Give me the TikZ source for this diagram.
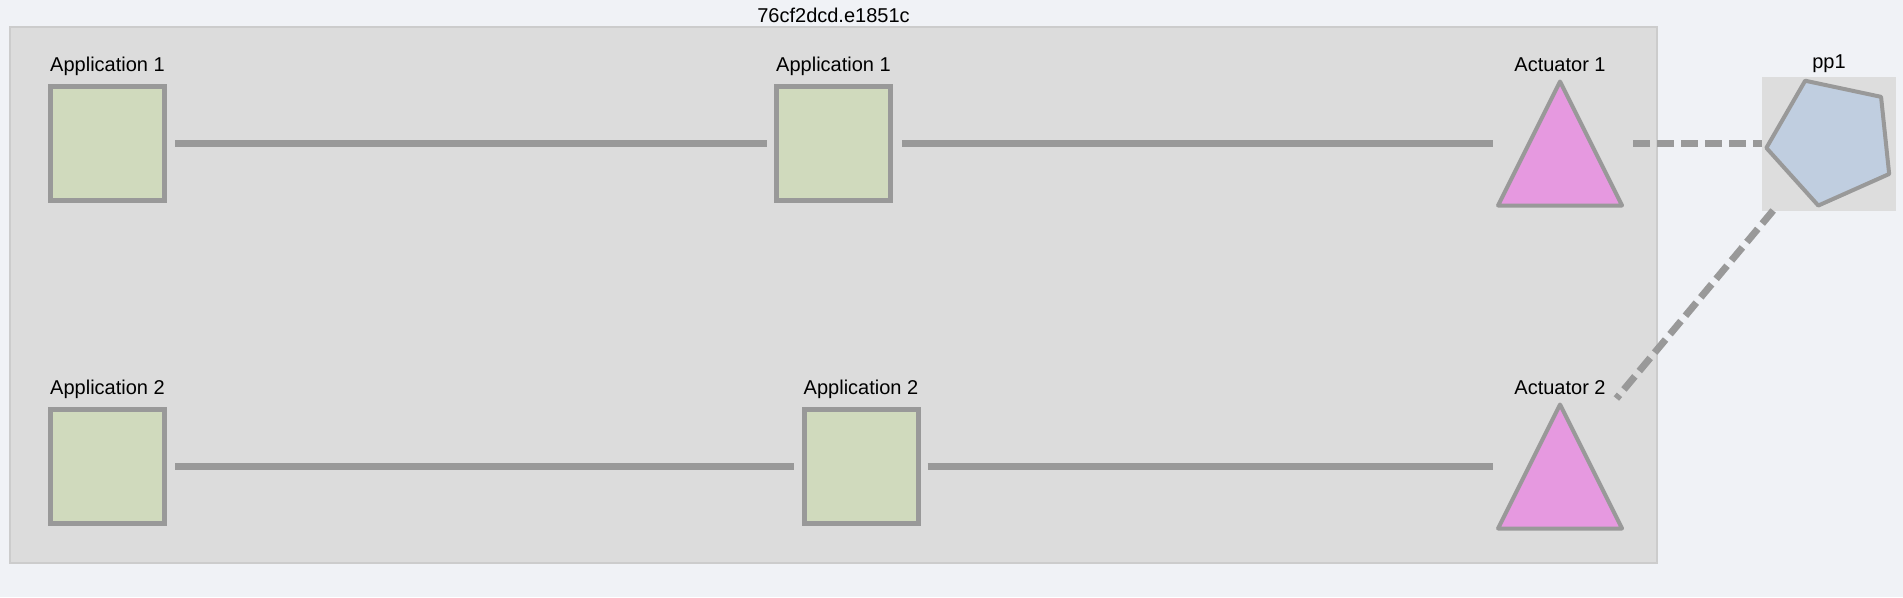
\documentclass[tikz,border=0pt]{standalone}
\usepackage{fontspec}
\setmainfont{Liberation Sans}
\usepackage{tikz}
\usetikzlibrary{calc,positioning,shapes.geometric}
\definecolor{canvasbg}{HTML}{F0F2F6}
\definecolor{groupfill}{HTML}{DCDCDC}
\definecolor{groupline}{HTML}{CCCCCC}
\definecolor{edgegray}{HTML}{999999}
\definecolor{appfill}{HTML}{D0DABD}
\definecolor{actfill}{HTML}{E699E0}
\definecolor{ppfill}{HTML}{C0CEE0}
\definecolor{ppback}{HTML}{DDDDDD}
\tikzset{
    lbl/.style={inner sep=0pt, font=\fontsize{20}{24}\selectfont},
    appbox/.style={draw=edgegray, line width=5pt, fill=appfill, minimum size=114pt, inner sep=0pt},
    actslot/.style={minimum width=124pt, minimum height=136pt, inner sep=0pt, outer sep=0pt},
    tri/.style={draw=edgegray, line width=4pt, fill=actfill, line join=round},
    link/.style={draw=edgegray, line width=7pt},
    dlink/.style={draw=edgegray, line width=7pt, dash pattern=on 17pt off 7pt},
}

\begin{document}
\begin{tikzpicture}[x=1pt,y=1pt,yscale=-1,xscale=1]
		\useasboundingbox[fill=canvasbg] (0,0) rectangle (1903,597);
		
		% Group
		\node [draw=groupline, line width=2pt, fill=groupfill, minimum width=1647pt, minimum height=536pt, inner sep=0pt] (grp) at (833.5,295) {};
		\node [lbl, above=3pt of grp] (grptitle) {76cf2dcd.e1851c};
		
		% Text Node
		\node [appbox] (a1) at (107.5,143.5) {};
		\node [lbl, above=8pt of a1] (a1l) {Application 1};
		% Text Node
		\node [appbox] (b1) at (833.5,143.5) {};
		\node [lbl, above=8pt of b1] (b1l) {Application 1};
		% Text Node
		\node [actslot] (act1) at (1560,143.5) {};
		\draw [tri] ($(act1.north)+(0,6)$) -- ($(act1.south east)+(0,-6)$) -- ($(act1.south west)+(0,-6)$) -- cycle;
		\node [lbl, above=4pt of act1] (act1l) {Actuator 1};
		
		% Text Node
		\node [appbox] (a2) at (107.5,466.5) {};
		\node [lbl, above=8pt of a2] (a2l) {Application 2};
		% Text Node
		\node [appbox] (b2) at (861,466.5) {};
		\node [lbl, above=8pt of b2] (b2l) {Application 2};
		% Text Node
		\node [actslot] (act2) at (1560,466.5) {};
		\draw [tri] ($(act2.north)+(0,6)$) -- ($(act2.south east)+(0,-6)$) -- ($(act2.south west)+(0,-6)$) -- cycle;
		\node [lbl, above=4pt of act2] (act2l) {Actuator 2};
		
		% Text Node
		\node [fill=ppback, minimum size=134pt, inner sep=0pt, outer sep=0pt] (pp1) at (1829,143.5) {};
		\node [regular polygon, regular polygon sides=5, rotate=24, minimum size=132pt, inner sep=0pt, draw=edgegray, line width=4pt, fill=ppfill, line join=round] (pp1s) at (1832,141) {};
		\node [lbl, above=4pt of pp1] (pp1l) {pp1};
		
		% Connection
		\draw [link, shorten <=8pt, shorten >=7pt] (a1) -- (b1);
		% Connection
		\draw [link, shorten <=9pt, shorten >=5pt] (b1) -- (act1);
		% Connection
		\draw [link, shorten <=8pt, shorten >=8pt] (a2) -- (b2);
		% Connection
		\draw [link, shorten <=7pt, shorten >=5pt] (b2) -- (act2);
		% Connection
		\draw [dlink, shorten <=11pt] (act1) -- (pp1);
		% Connection
		\draw [dlink] (pp1) -- (act2);
		
		\end{tikzpicture}
\end{document}
